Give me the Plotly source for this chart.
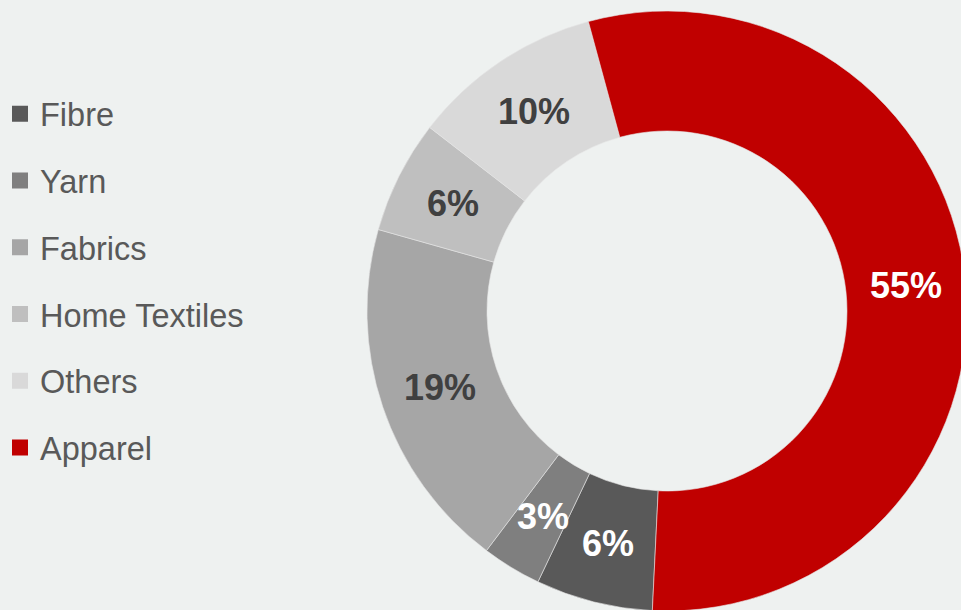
import math
import plotly.graph_objects as go

# ---- data ----
categories = ["Fibre", "Yarn", "Fabrics", "Home Textiles", "Others", "Apparel"]
shares = [6.3, 3.2, 19.1, 6.1, 10.3, 55.0]
slice_colors = ["#595959", "#7f7f7f", "#a6a6a6", "#bfbfbf", "#d9d9d9", "#c00000"]
label_colors = ["#ffffff", "#ffffff", "#404040", "#404040", "#404040", "#ffffff"]

# ---- geometry / style ----
W, H = 970, 615
CX, CY, R = 667, 311, 300
HOLE = 0.6
ROTATION = 182.8
BG = "#eef1f0"
FONT = "Liberation Sans, Arial, sans-serif"

dom_x = [(CX - R) / W, (CX + R) / W]
dom_y = [1 - (CY + R) / H, 1 - (CY - R) / H]

fig = go.Figure()
fig.add_trace(go.Pie(
    labels=categories,
    values=shares,
    sort=False,
    direction="clockwise",
    rotation=ROTATION,
    hole=HOLE,
    marker=dict(colors=slice_colors, line=dict(color="#e6e6e6", width=0.6)),
    textinfo="none",
    showlegend=False,
    domain=dict(x=dom_x, y=dom_y),
    hoverinfo="label+percent",
))

# legend entries (one group per category so they can be spaced)
for name, col in zip(categories, slice_colors):
    fig.add_trace(go.Scatter(
        x=[None], y=[None], mode="markers", name=name, legendgroup=name,
        marker=dict(symbol="square", size=12, color=col,
                    line=dict(color=col, width=4)),
        showlegend=True, hoverinfo="skip",
    ))

# percentage labels at the radial middle of each slice
total = sum(shares)
annotations = []
cum = 0.0
r_lab = R * (1 + HOLE) / 2
for name, v, tc in zip(categories, shares, label_colors):
    a0 = ROTATION + cum / total * 360
    a1 = ROTATION + (cum + v) / total * 360
    cum += v
    mid = math.radians((a0 + a1) / 2)
    px = CX + r_lab * math.sin(mid)
    py = CY - r_lab * math.cos(mid)
    annotations.append(dict(
        x=px / W, y=1 - py / H, xref="paper", yref="paper",
        text=f"<b>{round(v / total * 100)}%</b>", showarrow=False,
        xanchor="center", yanchor="middle",
        font=dict(family=FONT, size=36, color=tc),
    ))

fig.update_layout(
    width=W, height=H,
    margin=dict(l=0, r=0, t=0, b=0),
    paper_bgcolor=BG, plot_bgcolor=BG,
    xaxis=dict(visible=False), yaxis=dict(visible=False),
    annotations=annotations,
    legend=dict(
        x=0.0, y=1 - 86 / H, xanchor="left", yanchor="top",
        font=dict(family=FONT, size=32.5, color="#595959"),
        tracegroupgap=21.5, bgcolor="rgba(0,0,0,0)",
        itemclick=False, itemdoubleclick=False,
    ),
    showlegend=True,
)

fig.write_html(
    "out.html",
    config={"displayModeBar": False},
    post_script="document.body.style.margin='0';document.body.style.overflow='hidden';document.documentElement.style.overflow='hidden';",
)
